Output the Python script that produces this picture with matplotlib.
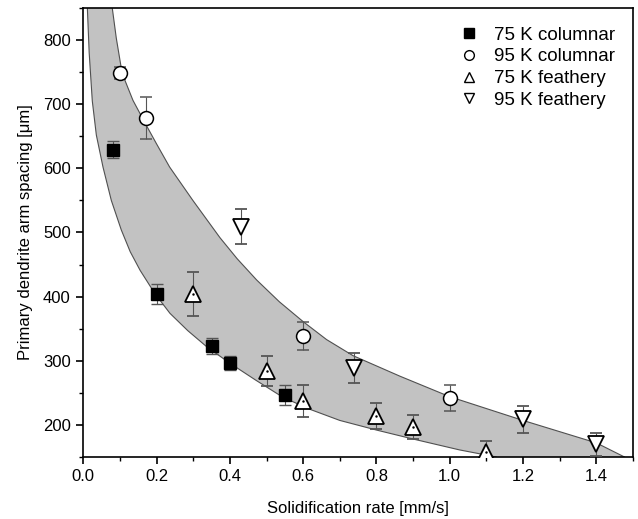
import numpy as np
import matplotlib
matplotlib.use("Agg")
import matplotlib.pyplot as plt
from matplotlib.ticker import MultipleLocator, FormatStrFormatter
from matplotlib.lines import Line2D

plt.rcParams['font.family'] = ['Liberation Sans', 'DejaVu Sans']

# Band boundaries
lower_x = [0.011, 0.016, 0.0245, 0.0355, 0.0537, 0.0764, 0.1036, 0.128, 0.155,
           0.195, 0.2364, 0.285, 0.3365, 0.398, 0.47, 0.545, 0.62, 0.700,
           0.800, 0.900, 1.027, 1.127]
lower_y = [850, 780, 705, 652, 602, 550, 504, 470, 441,
           405, 374, 347, 322, 297, 270, 243, 224, 207,
           192, 178, 161, 150]
upper_x = [0.079, 0.090, 0.106, 0.1355, 0.172, 0.200, 0.2356, 0.299, 0.3728,
           0.420, 0.473, 0.535, 0.600, 0.664, 0.736, 0.864, 1.000, 1.200,
           1.400, 1.477]
upper_y = [850, 803, 748, 706, 667, 638, 602, 550, 492,
           459, 426, 392, 361, 333, 308, 276, 244, 207,
           172, 150]

# Series
col75_x = [0.08, 0.2, 0.35, 0.4, 0.55]
col75_y = [629, 404, 323, 296, 247]
col75_e = [13, 15, 13, 11, 16]

col95_x = [0.1, 0.17, 0.6, 1.0]
col95_y = [749, 679, 339, 242]
col95_e = [9, 33, 22, 20]

fea75_x = [0.3, 0.5, 0.6, 0.8, 0.9, 1.1]
fea75_y = [404, 284, 237, 214, 197, 158]
fea75_e = [34, 23, 25, 20, 19, 17]

fea95_x = [0.43, 0.74, 1.2, 1.4]
fea95_y = [509, 289, 209, 170]
fea95_e = [27, 23, 21, 18]

labels = ["75 K columnar", "95 K columnar", "75 K feathery", "95 K feathery"]

fig = plt.figure(figsize=(6.38, 5.19), dpi=100)
ax = fig.add_axes([0.1306, 0.1195, 0.992 - 0.1306, 0.9846 - 0.1195])

px = np.concatenate([lower_x, upper_x[::-1]])
py = np.concatenate([lower_y, upper_y[::-1]])
ax.fill(px, py, color='#c2c2c2', lw=0, zorder=1)
ax.plot(lower_x, lower_y, color='#505050', lw=0.8, zorder=2)
ax.plot(upper_x, upper_y, color='#505050', lw=0.8, zorder=2)

ekw = dict(ecolor='#555555', elinewidth=0.8, capsize=4, capthick=0.8, ls='none', zorder=3)
ax.errorbar(col75_x, col75_y, yerr=col75_e, marker='s', ms=9, mfc='black',
            mec='black', mew=1.0, **ekw)
ax.errorbar(col95_x, col95_y, yerr=col95_e, marker='o', ms=10, mfc='white',
            mec='black', mew=1.1, **ekw)
ax.errorbar(fea75_x, fea75_y, yerr=fea75_e, marker='^', ms=12, mfc='white',
            mec='black', mew=1.3, **ekw)
ax.errorbar(fea95_x, fea95_y, yerr=fea95_e, marker='v', ms=12, mfc='white',
            mec='black', mew=1.3, **ekw)
ax.plot(fea75_x, fea75_y, ls='none', marker='.', ms=1.5, color='black', zorder=4)

ax.set_xlim(0.0, 1.5)
ax.set_ylim(150, 850)
ax.set_xticks(np.arange(0, 1.41, 0.2))
ax.set_yticks(np.arange(200, 801, 100))
ax.xaxis.set_minor_locator(MultipleLocator(0.1))
ax.yaxis.set_minor_locator(MultipleLocator(50))
ax.xaxis.set_major_formatter(FormatStrFormatter('%.1f'))
ax.tick_params(which='major', direction='out', length=5, width=1.2, labelsize=12,
               top=False, right=False, pad=4)
ax.tick_params(which='minor', direction='out', length=3, width=1.0, top=False, right=False)
for s in ax.spines.values():
    s.set_linewidth(1.2)

ax.set_xlabel("Solidification rate [mm/s]", fontsize=12, labelpad=12)
ax.set_ylabel("Primary dendrite arm spacing [μm]", fontsize=12, labelpad=7)

handles = [
    Line2D([], [], ls='none', marker='s', ms=6.5, mfc='black', mec='black'),
    Line2D([], [], ls='none', marker='o', ms=7, mfc='white', mec='black'),
    Line2D([], [], ls='none', marker='^', ms=7.5, mfc='white', mec='black'),
    Line2D([], [], ls='none', marker='v', ms=7.5, mfc='white', mec='black'),
]
ax.legend(handles, labels, loc='upper left', frameon=False, fontsize=13.5,
          handlelength=1.0, handletextpad=0.8, labelspacing=0.25,
          borderpad=0, borderaxespad=0, bbox_to_anchor=(0.685, 0.959))

fig.savefig("out.png", dpi=100)
